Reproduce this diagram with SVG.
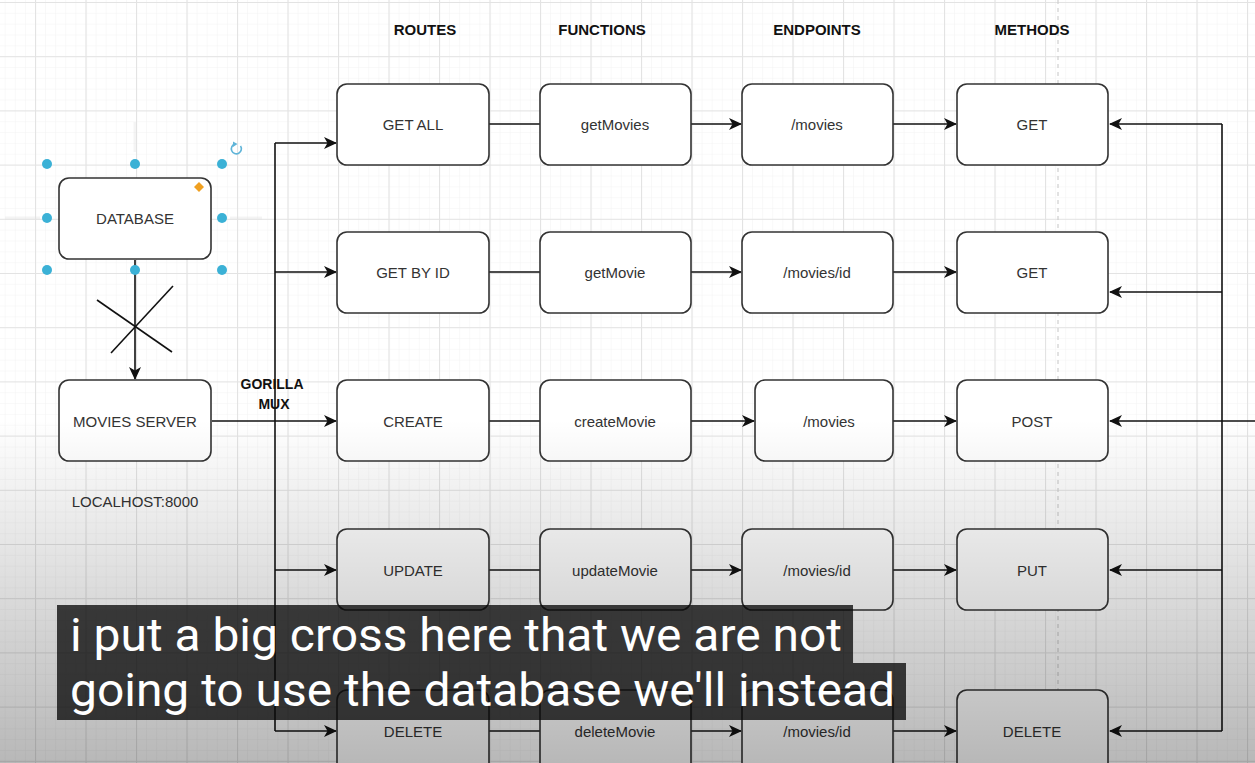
<svg xmlns="http://www.w3.org/2000/svg" width="1255" height="763" viewBox="0 0 1255 763">
<defs>
<style>
.box{fill:#ffffff;stroke:#333333;stroke-width:1.6}
.lbl{font-family:"Liberation Sans",Arial,sans-serif;font-size:15px;fill:#333333;text-anchor:middle;dominant-baseline:central}
.hdr{font-family:"Liberation Sans",Arial,sans-serif;font-size:15px;font-weight:bold;fill:#111111;text-anchor:middle}
.ln{fill:none;stroke:#111111;stroke-width:1.6}
.arr{fill:none;stroke:#111111;stroke-width:1.6;marker-end:url(#ah)}
.hd{fill:#3bb1d6}
.sub{font-family:Roboto,"Liberation Sans",sans-serif;font-size:46px;fill:#ffffff}
</style>
<marker id="ah" markerUnits="userSpaceOnUse" markerWidth="14" markerHeight="12" refX="12" refY="6" orient="auto">
<path d="M0,0 L13,6 L0,12 L3.5,6 z" fill="#111111"/>
</marker>
<pattern id="minor" x="35" y="2" width="10.1" height="10.84" patternUnits="userSpaceOnUse">
<path d="M0,0 V10.84 M0,0 H10.1" stroke="#f3f3f3" stroke-width="1" fill="none"/>
</pattern>
<pattern id="major" x="35" y="2" width="50.5" height="54.2" patternUnits="userSpaceOnUse">
<path d="M0.5,0 V54.2 M0,0.5 H50.5" stroke="#e3e3e3" stroke-width="1.2" fill="none"/>
</pattern>
<linearGradient id="shade" x1="0" y1="0" x2="0" y2="1">
<stop offset="0" stop-color="#000" stop-opacity="0"/>
<stop offset="1" stop-color="#000" stop-opacity="0.28"/>
</linearGradient>
</defs>

<rect width="1255" height="763" fill="#ffffff"/>
<rect width="1255" height="763" fill="url(#minor)"/>
<rect width="1255" height="763" fill="url(#major)"/>
<line x1="1058" y1="0" x2="1058" y2="763" stroke="#cfcfcf" stroke-width="1.2" stroke-dasharray="4 4"/>

<!-- faint guides -->
<g stroke="#e2e2e2" stroke-width="3" opacity="0.35">
<line x1="135" y1="122" x2="135" y2="152"/>
<line x1="5" y1="218" x2="40" y2="218"/>
<line x1="230" y1="218" x2="262" y2="218"/>
</g>

<!-- headers -->
<g id="headers">
<text class="hdr" x="425" y="35">ROUTES</text>
<text class="hdr" x="602" y="35">FUNCTIONS</text>
<text class="hdr" x="817" y="35">ENDPOINTS</text>
<text class="hdr" x="1032" y="35">METHODS</text>
</g>

<!-- connectors -->
<g id="connectors">
<path class="arr" d="M135,260 V379"/>
<line class="ln" x1="97" y1="300" x2="172" y2="352"/>
<line class="ln" x1="173" y1="286" x2="111" y2="353"/>
<path class="arr" d="M212,421 H336"/>
<path class="ln" d="M275,143 V731"/>
<path class="arr" d="M275,143 H336"/>
<path class="arr" d="M275,272 H336"/>
<path class="arr" d="M275,570 H336"/>
<path class="arr" d="M275,731 H336"/>
<line class="ln" x1="489" y1="124" x2="540" y2="124"/>
<line class="ln" x1="489" y1="272" x2="540" y2="272"/>
<line class="ln" x1="489" y1="421" x2="540" y2="421"/>
<line class="ln" x1="489" y1="570" x2="540" y2="570"/>
<line class="ln" x1="489" y1="731" x2="540" y2="731"/>
<path class="arr" d="M691,124 H741"/>
<path class="arr" d="M691,272 H741"/>
<path class="arr" d="M691,421 H754"/>
<path class="arr" d="M691,570 H741"/>
<path class="arr" d="M691,731 H741"/>
<path class="arr" d="M893,124 H956"/>
<path class="arr" d="M893,272 H956"/>
<path class="arr" d="M893,421 H956"/>
<path class="arr" d="M893,570 H956"/>
<path class="arr" d="M893,731 H956"/>
<path class="ln" d="M1222,124 V731"/>
<path class="arr" d="M1222,124 H1110"/>
<path class="arr" d="M1222,292 H1110"/>
<path class="arr" d="M1255,421 H1110"/>
<path class="arr" d="M1222,570 H1110"/>
<path class="arr" d="M1222,731 H1110"/>
</g>

<g id="gorilla-mux">
<text class="hdr" x="272" y="389" style="font-size:14px">GORILLA</text>
<text class="hdr" x="274" y="409" style="font-size:14px">MUX</text>
</g>

<!-- left nodes -->
<g id="database">
<rect class="box" x="59" y="178" width="152" height="81" rx="10"/>
<text class="lbl" x="135" y="218">DATABASE</text>
</g>
<g id="selection">
<circle class="hd" cx="47" cy="164" r="5"/>
<circle class="hd" cx="135" cy="164" r="5"/>
<circle class="hd" cx="222" cy="164" r="5"/>
<circle class="hd" cx="47" cy="218" r="5"/>
<circle class="hd" cx="222" cy="218" r="5"/>
<circle class="hd" cx="47" cy="270" r="5"/>
<circle class="hd" cx="135" cy="270" r="5"/>
<circle class="hd" cx="222" cy="270" r="5"/>
<path d="M199,182 L204,187 L199,192 L194,187 z" fill="#f0a020"/>
<path d="M240.5,146 A5,5 0 1 1 235,144" fill="none" stroke="#5fb4d8" stroke-width="1.6"/>
<path d="M233,141.5 L237.5,144 L233,147 z" fill="#5fb4d8"/>
</g>
<g id="movies-server">
<rect class="box" x="59" y="380" width="152" height="81" rx="10"/>
<text class="lbl" x="135" y="421">MOVIES SERVER</text>
</g>
<text class="lbl" x="135" y="501" id="localhost">LOCALHOST:8000</text>

<!-- row 1 -->
<g id="get-all"><rect class="box" x="337" y="84" width="152" height="81" rx="10"/><text class="lbl" x="413" y="124">GET ALL</text></g>
<g id="getMovies"><rect class="box" x="540" y="84" width="151" height="81" rx="10"/><text class="lbl" x="615" y="124">getMovies</text></g>
<g id="ep-movies-1"><rect class="box" x="742" y="84" width="151" height="81" rx="10"/><text class="lbl" x="817" y="124">/movies</text></g>
<g id="m-get-1"><rect class="box" x="957" y="84" width="151" height="81" rx="10"/><text class="lbl" x="1032" y="124">GET</text></g>
<!-- row 2 -->
<g id="get-by-id"><rect class="box" x="337" y="232" width="152" height="81" rx="10"/><text class="lbl" x="413" y="272">GET BY ID</text></g>
<g id="getMovie"><rect class="box" x="540" y="232" width="151" height="81" rx="10"/><text class="lbl" x="615" y="272">getMovie</text></g>
<g id="ep-movies-id-1"><rect class="box" x="742" y="232" width="151" height="81" rx="10"/><text class="lbl" x="817" y="272">/movies/id</text></g>
<g id="m-get-2"><rect class="box" x="957" y="232" width="151" height="81" rx="10"/><text class="lbl" x="1032" y="272">GET</text></g>
<!-- row 3 -->
<g id="create"><rect class="box" x="337" y="380" width="152" height="81" rx="10"/><text class="lbl" x="413" y="421">CREATE</text></g>
<g id="createMovie"><rect class="box" x="540" y="380" width="151" height="81" rx="10"/><text class="lbl" x="615" y="421">createMovie</text></g>
<g id="ep-movies-2"><rect class="box" x="755" y="380" width="138" height="81" rx="10"/><text class="lbl" x="829" y="421">/movies</text></g>
<g id="m-post"><rect class="box" x="957" y="380" width="151" height="81" rx="10"/><text class="lbl" x="1032" y="421">POST</text></g>
<!-- row 4 -->
<g id="update"><rect class="box" x="337" y="529" width="152" height="81" rx="10"/><text class="lbl" x="413" y="570">UPDATE</text></g>
<g id="updateMovie"><rect class="box" x="540" y="529" width="151" height="81" rx="10"/><text class="lbl" x="615" y="570">updateMovie</text></g>
<g id="ep-movies-id-2"><rect class="box" x="742" y="529" width="151" height="81" rx="10"/><text class="lbl" x="817" y="570">/movies/id</text></g>
<g id="m-put"><rect class="box" x="957" y="529" width="151" height="81" rx="10"/><text class="lbl" x="1032" y="570">PUT</text></g>
<!-- row 5 -->
<g id="delete"><rect class="box" x="337" y="690" width="152" height="90" rx="10"/><text class="lbl" x="413" y="731">DELETE</text></g>
<g id="deleteMovie"><rect class="box" x="540" y="690" width="151" height="90" rx="10"/><text class="lbl" x="615" y="731">deleteMovie</text></g>
<g id="ep-movies-id-3"><rect class="box" x="742" y="690" width="151" height="90" rx="10"/><text class="lbl" x="817" y="731">/movies/id</text></g>
<g id="m-delete"><rect class="box" x="957" y="690" width="151" height="90" rx="10"/><text class="lbl" x="1032" y="731">DELETE</text></g>

<rect x="0" y="420" width="1255" height="343" fill="url(#shade)"/>

<!-- subtitles -->
<g id="subtitles">
<rect x="57" y="605" width="796" height="58" fill="#0a0a0a" fill-opacity="0.78"/>
<rect x="57" y="663" width="849" height="57" fill="#0a0a0a" fill-opacity="0.78"/>
<text class="sub" x="70" y="651" textLength="772" lengthAdjust="spacingAndGlyphs">i put a big cross here that we are not</text>
<text class="sub" x="70" y="706" textLength="825" lengthAdjust="spacingAndGlyphs">going to use the database we'll instead</text>
</g>
</svg>
